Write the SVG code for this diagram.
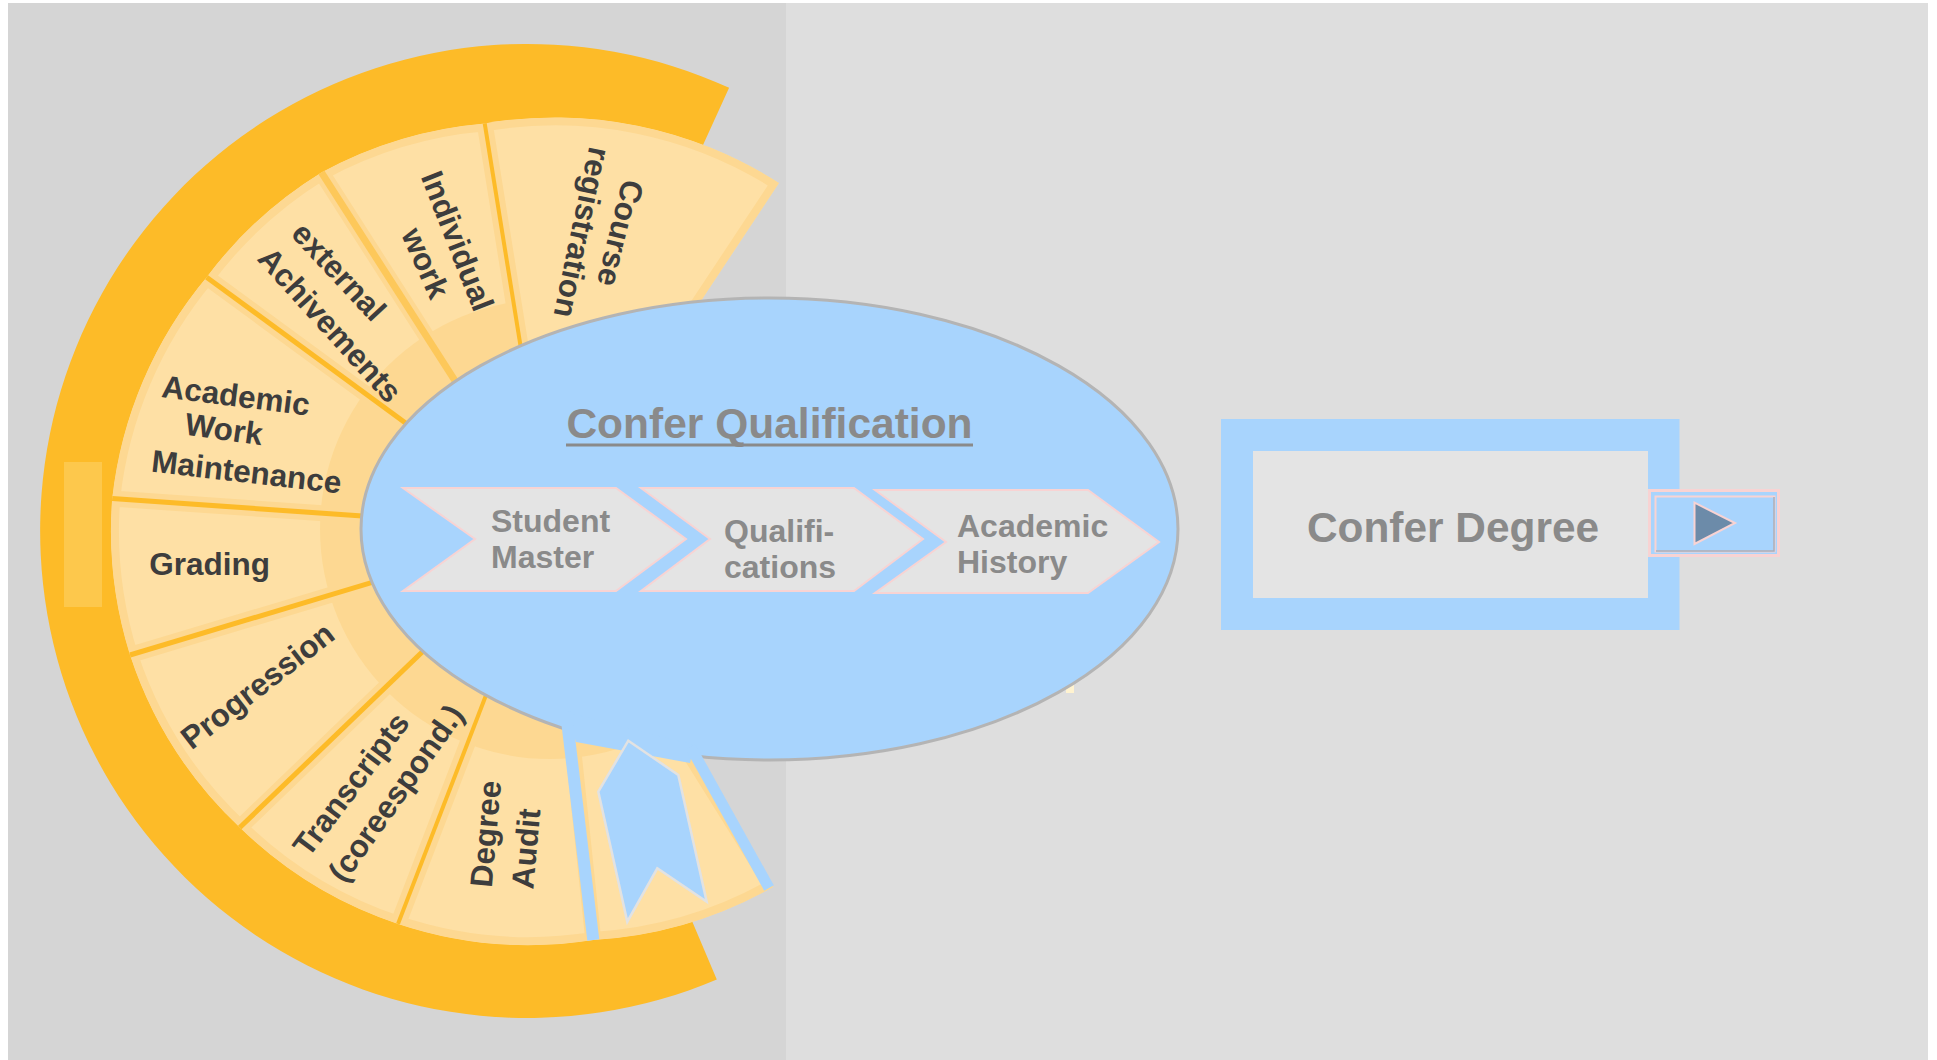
<svg xmlns="http://www.w3.org/2000/svg" xmlns:xlink="http://www.w3.org/1999/xlink" width="1937" height="1060" viewBox="0 0 1937 1060">
<style>
.wt{font-family:"Liberation Sans",Arial,sans-serif;font-weight:bold;font-size:31.5px;fill:#3d3d3d}
.gt{font-family:"Liberation Sans",Arial,sans-serif;font-weight:bold;fill:#8a8a8a}
.wf{fill:#fee0a5;stroke:#fdd892;stroke-width:16}
.dv{stroke:#fdbb28;fill:none}
.bl{stroke:#a8d4fd;fill:none}
.chev{fill:#e4e4e4;stroke:#f8d3d3;stroke-width:2}
</style>
<defs>
<path id="w0" d="M550,529 L779,183 A415,415 0 0 0 484.7,123.4 Z"/>
<path id="w1" d="M550,529 L484.7,123.4 A415,415 0 0 0 321.4,172.4 Z"/>
<path id="w2" d="M550,529 L321.4,172.4 A415,415 0 0 0 206.6,277.2 Z"/>
<path id="w3" d="M550,529 L206.6,277.2 A415,415 0 0 0 112.2,498.6 Z"/>
<path id="w4" d="M550,529 L112.2,498.6 A415,415 0 0 0 130,655 Z"/>
<path id="w5" d="M550,529 L130,655 A415,415 0 0 0 239.8,827.5 Z"/>
<path id="w6" d="M550,529 L239.8,827.5 A415,415 0 0 0 398,923.9 Z"/>
<path id="w7" d="M550,529 L398,923.9 A415,415 0 0 0 593.3,940 Z"/>
<path id="w8" d="M550,529 L593.3,940 A415,415 0 0 0 773,887 Z"/>
<clipPath id="c0"><use xlink:href="#w0"/></clipPath>
<clipPath id="c1"><use xlink:href="#w1"/></clipPath>
<clipPath id="c2"><use xlink:href="#w2"/></clipPath>
<clipPath id="c3"><use xlink:href="#w3"/></clipPath>
<clipPath id="c4"><use xlink:href="#w4"/></clipPath>
<clipPath id="c5"><use xlink:href="#w5"/></clipPath>
<clipPath id="c6"><use xlink:href="#w6"/></clipPath>
<clipPath id="c7"><use xlink:href="#w7"/></clipPath>
<clipPath id="c8"><use xlink:href="#w8"/></clipPath>
<clipPath id="cin"><use xlink:href="#w1"/><use xlink:href="#w2"/><use xlink:href="#w3"/><use xlink:href="#w4"/><use xlink:href="#w5"/><use xlink:href="#w6"/><use xlink:href="#w7"/><use xlink:href="#w8"/></clipPath>
</defs>

<g id="background">
<rect x="0" y="0" width="1937" height="1060" fill="#ffffff"/>
<rect x="8" y="3" width="1920" height="1057" fill="#dedede"/>
<rect x="8" y="3" width="778" height="1057" fill="#d5d5d5"/>
</g>

<g id="ring">
<path d="M729.1,87.8 A487,487 0 1 0 716.8,979.5 L682.9,899.4 A400,400 0 1 1 693,167 Z" fill="#fdbb28"/>
<rect x="64" y="462" width="38" height="145" fill="#fdc84c"/>
</g>

<g id="wheel">
<g id="wedge-course"><use xlink:href="#w0" class="wf" clip-path="url(#c0)"/></g>
<g id="wedge-individual"><use xlink:href="#w1" class="wf" clip-path="url(#c1)"/></g>
<g id="wedge-external"><use xlink:href="#w2" class="wf" clip-path="url(#c2)"/></g>
<g id="wedge-academic"><use xlink:href="#w3" class="wf" clip-path="url(#c3)"/></g>
<g id="wedge-grading"><use xlink:href="#w4" class="wf" clip-path="url(#c4)"/></g>
<g id="wedge-progression"><use xlink:href="#w5" class="wf" clip-path="url(#c5)"/></g>
<g id="wedge-transcripts"><use xlink:href="#w6" class="wf" clip-path="url(#c6)"/></g>
<g id="wedge-degree-audit"><use xlink:href="#w7" class="wf" clip-path="url(#c7)"/></g>
<g id="wedge-ribbon"><use xlink:href="#w8" class="wf" clip-path="url(#c8)"/></g>
<circle cx="550" cy="529" r="230" fill="#fdd892" clip-path="url(#cin)"/>
<g id="dividers">
<line class="dv" x1="550" y1="529" x2="484.7" y2="123.4" stroke-width="4"/>
<line x1="550" y1="529" x2="321.4" y2="172.4" stroke="#fdc85a" stroke-width="7"/>
<line class="dv" x1="550" y1="529" x2="206.6" y2="277.2" stroke-width="5"/>
<line class="dv" x1="550" y1="529" x2="112.2" y2="498.6" stroke-width="5"/>
<line class="dv" x1="550" y1="529" x2="130" y2="655" stroke-width="5"/>
<line class="dv" x1="550" y1="529" x2="239.8" y2="827.5" stroke-width="5"/>
<line class="dv" x1="550" y1="529" x2="398" y2="923.9" stroke-width="4"/>
</g>
<g id="wedge-labels">
<text class="wt" text-anchor="middle" transform="translate(609.8,230.6) rotate(104)">Course</text>
<text class="wt" text-anchor="middle" transform="translate(571.4,230.2) rotate(102)">registration</text>
<text class="wt" text-anchor="middle" transform="translate(447.4,245) rotate(68.6)">Individual</text>
<text class="wt" text-anchor="middle" transform="translate(415.7,267.5) rotate(66)">work</text>
<text class="wt" text-anchor="middle" transform="translate(331,279) rotate(47)">external</text>
<text class="wt" text-anchor="middle" transform="translate(322,332.2) rotate(47.8)">Achivements</text>
<text class="wt" transform="translate(160.7,397) rotate(7.2)">Academic</text>
<text class="wt" transform="translate(183.7,434.4) rotate(8)">Work</text>
<text class="wt" transform="translate(150.5,471.6) rotate(6.6)">Maintenance</text>
<text class="wt" x="149.3" y="575">Grading</text>
<text class="wt" text-anchor="middle" transform="translate(264.2,694.2) rotate(-37.8)">Progression</text>
<text class="wt" text-anchor="middle" transform="translate(359.7,790.8) rotate(-53)">Transcripts</text>
<text class="wt" text-anchor="middle" transform="translate(404.7,799.3) rotate(-54.6)">(coreespond.)</text>
<text class="wt" text-anchor="middle" transform="translate(496.5,834.7) rotate(-85)">Degree</text>
<text class="wt" text-anchor="middle" transform="translate(536.8,849.6) rotate(-85)">Audit</text>
</g>
</g>

<g id="confer-qualification">
<rect x="1066" y="684" width="8" height="9" fill="#fff3d0"/>
<ellipse cx="769.5" cy="529" rx="408.5" ry="231" fill="#a8d4fd" stroke="#b4b4b4" stroke-width="3"/>
<polygon points="566,712 576,742 690,763 694,745" fill="#a8d4fd"/>
<line class="bl" x1="566" y1="712" x2="593.3" y2="940" stroke-width="12"/>
<line class="bl" x1="690.5" y1="746.9" x2="769" y2="888" stroke-width="11"/>
<polygon points="628.3,740.7 678.3,775 706.7,901.7 657.3,868.3 627.3,921.7 598.3,791.7" fill="#a8d4fd" stroke="#e2e2e2" stroke-width="2.5"/>
<text class="gt" x="769.5" y="438" text-anchor="middle" font-size="42.5">Confer Qualification</text>
<line x1="566" y1="445" x2="973" y2="445" stroke="#8a8a8a" stroke-width="3"/>
</g>

<g id="chevron-student-master">
<polygon class="chev" points="403,488 616,488 686,539 616,591 403,591 475,539"/>
<text class="gt" font-size="32" x="491" y="532">Student</text>
<text class="gt" font-size="32" x="491" y="568">Master</text>
</g>
<g id="chevron-qualifications">
<polygon class="chev" points="641,488 854,488 923,539 854,591 641,591 710,539"/>
<text class="gt" font-size="32" x="724" y="542">Qualifi-</text>
<text class="gt" font-size="32" x="724" y="578">cations</text>
</g>
<g id="chevron-academic-history">
<polygon class="chev" points="875,490 1088,490 1159,542 1088,593 875,593 946,542"/>
<text class="gt" font-size="32" x="957" y="537">Academic</text>
<text class="gt" font-size="32" x="957" y="573">History</text>
</g>

<g id="confer-degree">
<rect x="1221" y="419" width="458.5" height="211" fill="#a8d4fd"/>
<rect x="1253" y="451" width="395" height="147" fill="#e4e4e4"/>
<text class="gt" x="1453" y="542" text-anchor="middle" font-size="42.4">Confer Degree</text>
</g>

<g id="play-button">
<rect x="1649.5" y="490.5" width="129" height="65" fill="#a8d4fd" stroke="#f8d3d3" stroke-width="3"/>
<rect x="1655.5" y="496.5" width="119" height="55" fill="none" stroke="#f8d3d3" stroke-width="2"/>
<polyline points="1774,497 1774,551 1656,551" fill="none" stroke="#a4aebb" stroke-width="1.5"/>
<polygon points="1694.5,502.7 1694.5,544 1735,523" fill="#6c8ba9" stroke="#f8d3d3" stroke-width="2"/>
</g>

<g id="connectors"/>
</svg>
